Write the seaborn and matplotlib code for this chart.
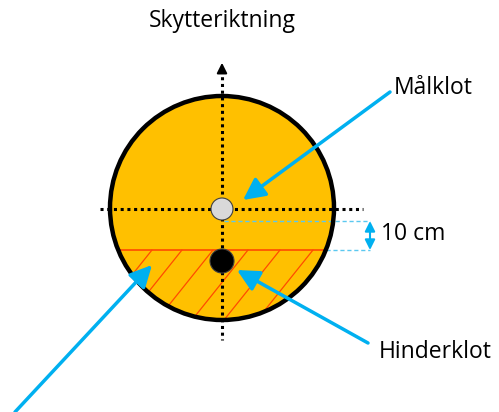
import matplotlib
matplotlib.use("Agg")
import matplotlib.pyplot as plt
import matplotlib.patches as mpatches
import seaborn as sns

# diagram parts (pixel coordinates of the 499x412 picture, y down)
target_center = (222, 208)
target_radius = 112
labels = ["Skytteriktning", "Målklot", "Hinderklot", "10 cm"]
label_xy = [(222, 21), (394, 88), (379, 352), (381, 234)]
ball_xy = [(222, 209), (222, 261)]
ball_r = [11, 12]
ball_colors = ["#d9d9d9", "black"]
limit_y = 250
offset_y = 221
hatch_x = [120, 152, 182, 213, 248, 280, 313, 345]
arrow_tails = [(390, 92), (368, 343), (15, 412)]
arrow_tips = [(243, 200), (237, 270), (152, 265)]

ORANGE = "#FFC000"
BLUE = "#00B0F0"
RED = "#FF4B00"

sns.set_theme(style="white")
plt.rcParams["font.family"] = ["Open Sans", "DejaVu Sans"]

fig = plt.figure(figsize=(4.99, 4.12), dpi=100)
ax = fig.add_axes([0, 0, 1, 1])
ax.set_xlim(0, 499)
ax.set_ylim(412, 0)
ax.set_aspect("equal")
ax.axis("off")

cx, cy = target_center
r = target_radius

# target disc
disc = mpatches.Circle(target_center, r, facecolor=ORANGE, edgecolor="none", zorder=1)
ax.add_patch(disc)

# hatch lines in lower segment
for hx in hatch_x:
    ln, = ax.plot([hx, hx - 100 / 1.25], [limit_y, limit_y + 100], color=RED, lw=0.9, zorder=2)
    ln.set_clip_path(disc)

# limit line
dx = (r ** 2 - (limit_y - cy) ** 2) ** 0.5
ax.plot([cx - dx, cx + dx], [limit_y, limit_y], color=RED, lw=1.2, zorder=3)

# outline
ax.add_patch(mpatches.Circle(target_center, r, facecolor="none", edgecolor="black", lw=3.2, zorder=6))

# dotted cross
ax.plot([100, 363], [ball_xy[0][1], ball_xy[0][1]], color="black", lw=2.2, ls=(0, (1, 1.2)), zorder=4)
ax.plot([cx, cx], [70, 340], color="black", lw=2.2, ls=(0, (1, 1.2)), zorder=4)
ax.annotate("", xy=(cx, 60), xytext=(cx, 72),
            arrowprops=dict(arrowstyle="-|>,head_length=0.5,head_width=0.25", color="black", lw=1.5))

# balls
for (bx, by), br, bc in zip(ball_xy, ball_r, ball_colors):
    ax.add_patch(mpatches.Circle((bx, by), br, facecolor=bc, edgecolor="#404040", lw=0.8, zorder=7))

# dimension lines
ax.plot([cx + 2, 370], [offset_y, offset_y], color="#5BC8F0", lw=1, ls=(0, (3, 2)), zorder=5)
ax.plot([cx + dx, 370], [limit_y, limit_y], color="#5BC8F0", lw=1, ls=(0, (3, 2)), zorder=5)
ax.annotate("", xy=(370, offset_y), xytext=(370, limit_y),
            arrowprops=dict(arrowstyle="<|-|>,head_length=0.5,head_width=0.25", color=BLUE, lw=1.5,
                            shrinkA=0, shrinkB=0))

# pointer arrows
for tail, tip in zip(arrow_tails, arrow_tips):
    ax.annotate("", xy=tip, xytext=tail,
                arrowprops=dict(arrowstyle="-|>,head_length=1.1,head_width=0.55", color=BLUE, lw=2.5,
                                shrinkA=0, shrinkB=0), zorder=8)

# texts
ax.text(*label_xy[0], labels[0], ha="center", va="center", fontsize=16.5, color="black")
for (tx, ty), t in zip(label_xy[1:], labels[1:]):
    ax.text(tx, ty, t, ha="left", va="center", fontsize=16.5, color="black")

fig.savefig("out.png", dpi=100)
